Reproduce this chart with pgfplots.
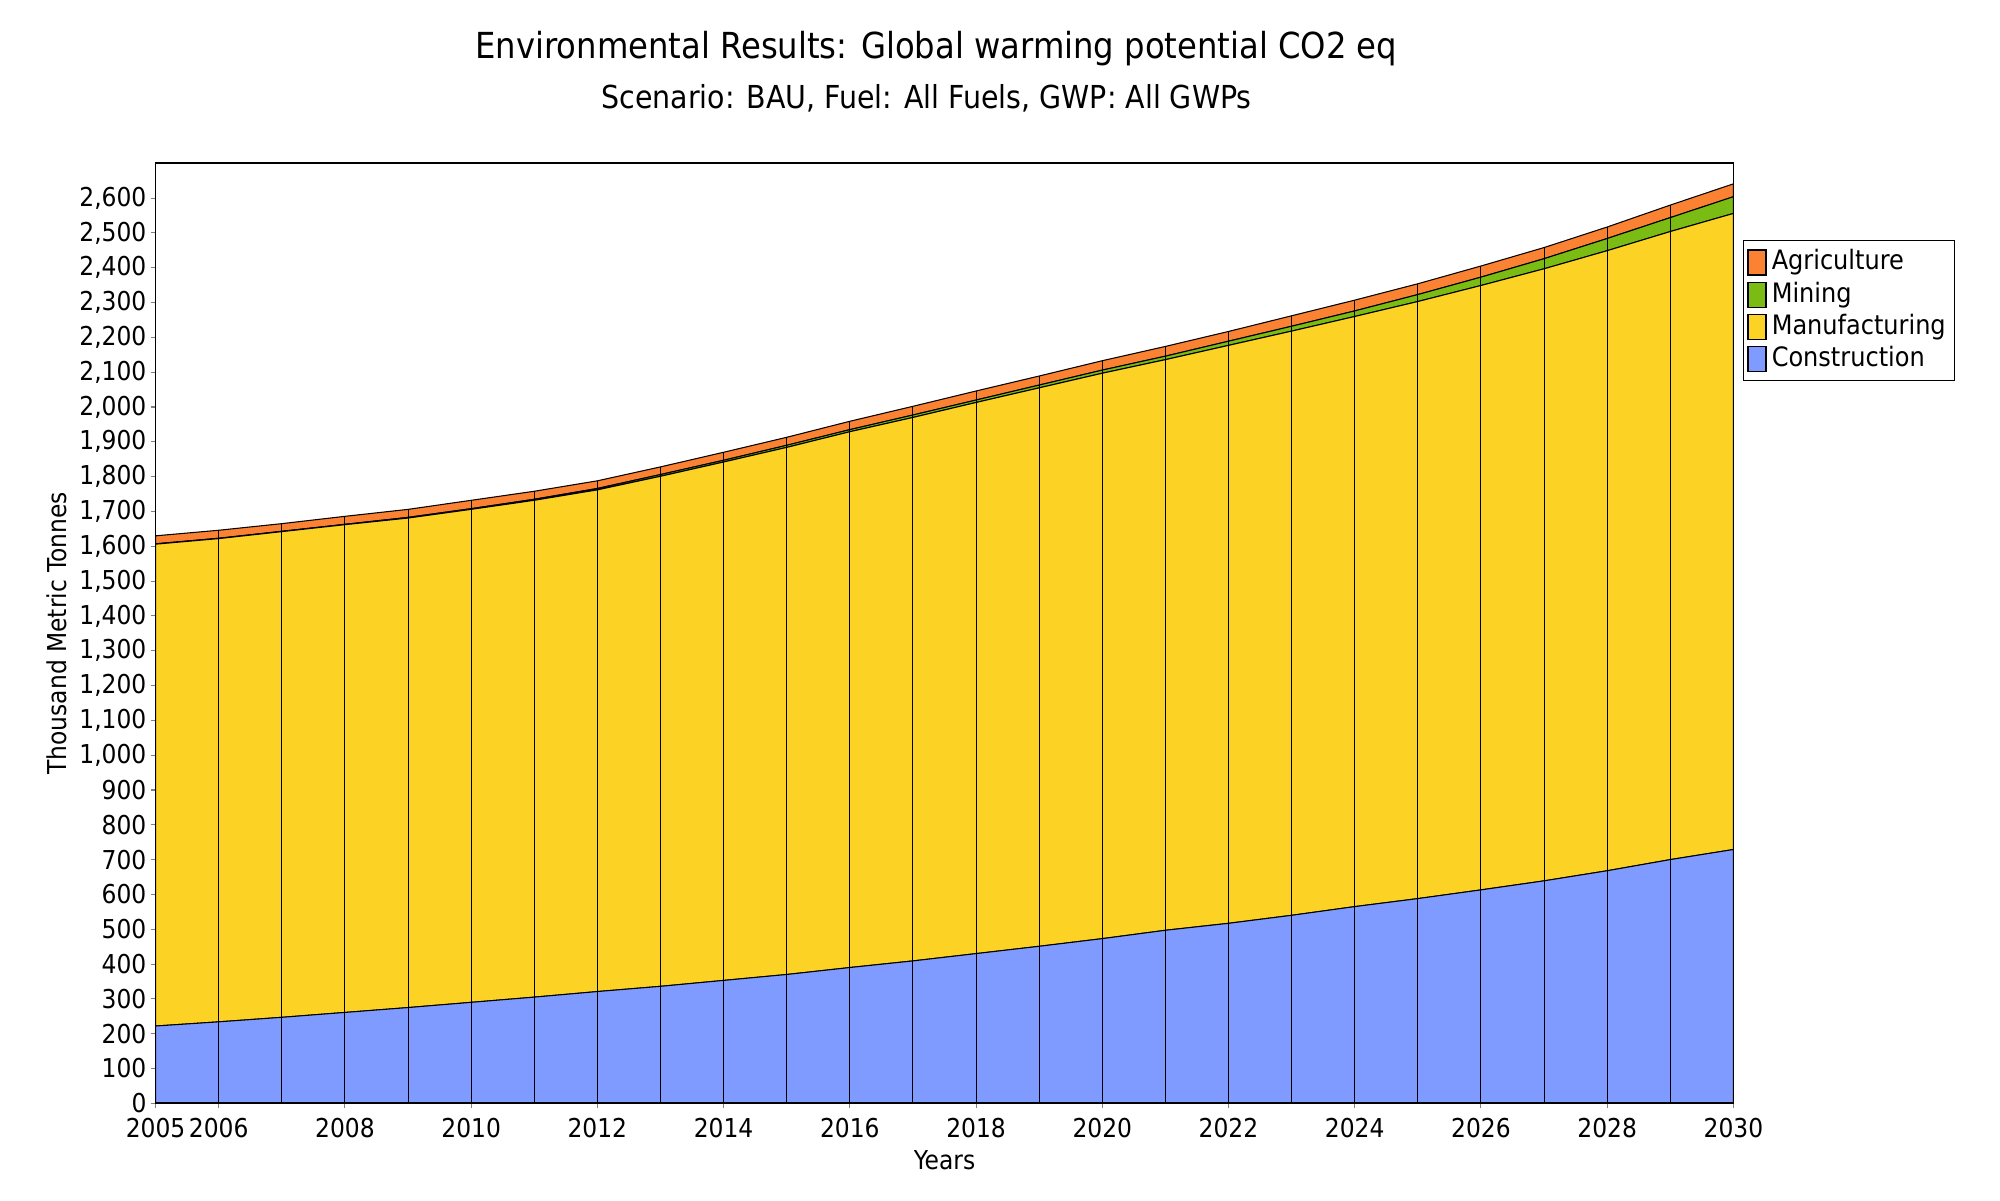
\documentclass[border=0pt]{standalone}
\usepackage{pgfplots}
\usepackage{pgfplotstable}
\pgfplotsset{compat=1.18}
\usepackage{fontspec}
\setmainfont{DejaVu Sans Condensed}
\definecolor{agri}{RGB}{250,130,50}
\definecolor{mine}{RGB}{122,187,20}
\definecolor{manu}{RGB}{252,211,36}
\definecolor{cons}{RGB}{128,155,255}
\pgfplotstableread{
year C M G A T
2005 222 1384 1 23 1630
2006 234 1388 1 23 1646
2007 247 1395 1 22 1665
2008 261 1401 1 23 1686
2009 275 1406 2 23 1706
2010 290 1416 2 24 1732
2011 305 1427 3 23 1758
2012 321 1441 4 22 1788
2013 336 1465 5 22 1828
2014 353 1489 5 23 1870
2015 370 1514 6 23 1913
2016 390 1539 6 24 1959
2017 409 1561 7 25 2002
2018 430 1583 7 26 2046
2019 451 1604 8 26 2089
2020 473 1624 9 27 2133
2021 497 1639 10 28 2174
2022 517 1660 12 28 2217
2023 540 1678 14 30 2262
2024 565 1695 16 31 2307
2025 588 1715 20 31 2354
2026 613 1736 24 32 2405
2027 639 1758 29 32 2458
2028 668 1781 35 33 2517
2029 700 1804 40 36 2580
2030 729 1827 48 37 2641
}\datatable
\begin{document}
\begin{tikzpicture}
\pgfplotsset{
  common/.style={
    scale only axis, width=15.778cm, height=9.4cm,
    xmin=2005, xmax=2030, ymin=0, ymax=2700,
  }
}
\begin{axis}[common, name=main,
  stack plots=y,
  axis line style={black, line width=0.5pt},
  tick align=outside, tick pos=left,
  major tick length=0.05cm,
  tick style={gray, line width=0.3pt},
  xtick={2005,2006,2008,2010,2012,2014,2016,2018,2020,2022,2024,2026,2028,2030},
  xticklabels={2005,2006,2008,2010,2012,2014,2016,2018,2020,2022,2024,2026,2028,2030},
  ytick={0,100,...,2600},
  yticklabel style={/pgf/number format/.cd, 1000 sep={,}},
  /pgf/number format/assume math mode=true,
  ticklabel style={font=\fontsize{7.4}{8}\selectfont, inner sep=1pt},
  xticklabel style={yshift=-1.6pt},
  xlabel={Years}, ylabel={Thousand Metric Tonnes},
  label style={font=\fontsize{7.4}{8}\selectfont},
  xlabel style={at={(0.5,-0.061)}, anchor=center},
  ylabel style={at={(-0.0625,0.5)}, anchor=center, rotate=0},
  reverse legend,
  legend style={at={(1,0.918)}, xshift=0.1cm, anchor=north west,
    draw=black, line width=0.3pt, font=\fontsize{7.6}{8}\selectfont,
    inner sep=1pt, row sep=-1.1pt,
    nodes={inner sep=1.5pt}},
  legend cell align=left,
  legend image code/.code={\draw[#1, draw=black, line width=0.3pt] (0cm,-0.125cm) rectangle (0.18cm,0.125cm);},
]
\addplot[fill=cons, draw=black, line width=0.3pt] table[x=year, y=C] {\datatable} \closedcycle;
\addlegendentry{Construction}
\addplot[fill=manu, draw=black, line width=0.3pt] table[x=year, y=M] {\datatable} \closedcycle;
\addlegendentry{Manufacturing}
\addplot[fill=mine, draw=black, line width=0.3pt] table[x=year, y=G] {\datatable} \closedcycle;
\addlegendentry{Mining}
\addplot[fill=agri, draw=black, line width=0.3pt] table[x=year, y=A] {\datatable} \closedcycle;
\addlegendentry{Agriculture}
\end{axis}
\begin{axis}[common, at={(main.south west)}, anchor=south west, axis lines=none, ticks=none]
\addplot[ycomb, black, line width=0.3pt, mark=none] table[x=year, y=T] {\datatable};
\end{axis}
\draw[black, line width=0.5pt] (main.south west) rectangle (main.north east);
\node[font=\fontsize{10.2}{12}\selectfont] at ([yshift=1.148cm, xshift=-0.08cm]main.north) {Environmental Results: Global warming potential CO2 eq};
\node[font=\fontsize{9}{10}\selectfont] at ([yshift=0.653cm, xshift=-0.18cm]main.north) {Scenario: BAU, Fuel: All Fuels, GWP: All GWPs};
\pgfresetboundingbox
\path[use as bounding box] (main.south west) ++(-1.556,-0.967) rectangle ++(20,12);
\end{tikzpicture}
\end{document}
